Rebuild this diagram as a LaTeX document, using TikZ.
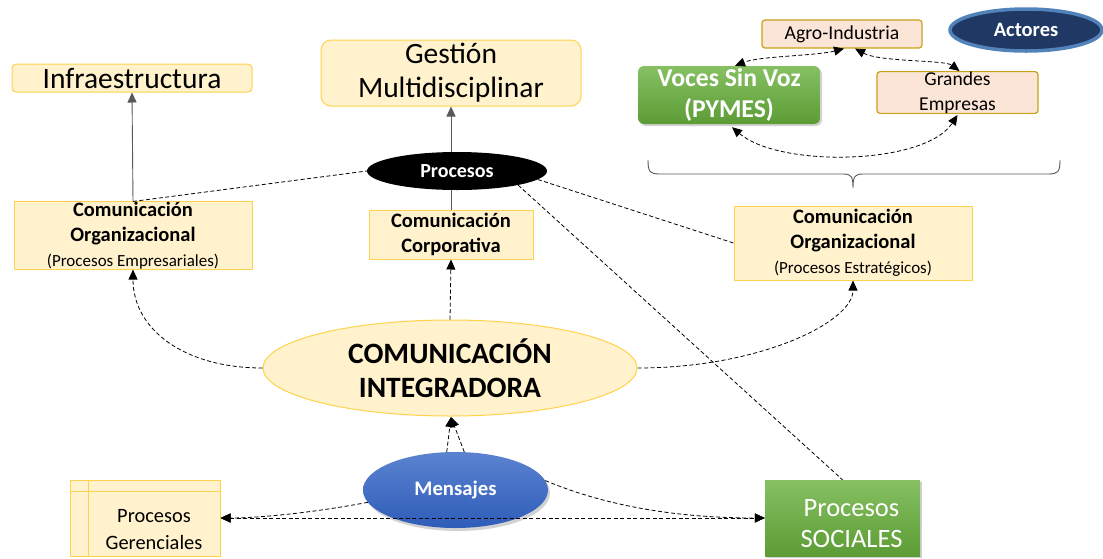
\documentclass[tikz,border=0pt]{standalone}
\usepackage{fontspec}
\setmainfont{Carlito}
\usetikzlibrary{arrows.meta,shapes.geometric,shadows,calc}

\definecolor{boxfill}{HTML}{FFF2CC}
\definecolor{boxline}{HTML}{FFD24D}
\definecolor{peach}{HTML}{FBE5D6}
\definecolor{peachline}{HTML}{C9A21A}
\definecolor{greenA}{HTML}{86C062}
\definecolor{greenB}{HTML}{5C9C35}
\definecolor{blueA}{HTML}{5B83D0}
\definecolor{blueB}{HTML}{2E5CB8}
\definecolor{navy}{HTML}{203864}
\definecolor{navyline}{HTML}{5282BA}
\definecolor{linegray}{HTML}{595959}

\newcommand\fs[2]{\fontsize{#1}{#2}\selectfont}

\tikzset{
  ybox/.style={draw=boxline, fill=boxfill, line width=1pt, inner sep=0pt, align=center},
  pbox/.style={draw=peachline, fill=peach, line width=1.2pt, rounded corners=3pt, inner sep=0pt, align=center},
  gbox/.style={top color=greenA, bottom color=greenB, draw=none, inner sep=0pt, align=center,
    text=white, drop shadow={opacity=0.35, shadow xshift=2pt, shadow yshift=-2pt}},
  lbl/.style={inner sep=0pt, align=center},
  solidlink/.style={draw=linegray, line width=0.9pt},
  dlink/.style={draw=black, line width=0.8pt, dash pattern=on 4pt off 2.5pt},
  tip/.style={-{Triangle[length=10pt,width=9pt]}},
  tips/.style={{Triangle[length=10pt,width=9pt]}-{Triangle[length=10pt,width=9pt]}}
}

\begin{document}
\begin{tikzpicture}[x=1pt,y=1pt]
\useasboundingbox (0,0) rectangle (1103,-558);
\fill[white] (0,0) rectangle (1103,-558);

% upper boxes
\node[ybox, rounded corners=4pt, minimum width=240pt, minimum height=28pt, font=\fs{29.5}{34}] (infra) at (132,-78) {Infraestructura};
\node[ybox, rounded corners=10pt, minimum width=260pt, minimum height=66pt, font=\fs{29.5}{34}] (gm) at (451,-73) {Gestión\\Multidisciplinar};
\node[ellipse, fill=black, minimum width=180pt, minimum height=38pt, inner sep=0pt, text=white, font=\bfseries\fs{20}{24}] (proc) at (457,-171) {Procesos};

% communication boxes
\node[ybox, minimum width=238pt, minimum height=65pt, font=\fs{20.5}{25}] (lo) at (133,-235.5)
  {\bfseries Comunicación\\\bfseries Organizacional\\{\fs{17}{21}(Procesos Empresariales)}};
\node[ybox, minimum width=164pt, minimum height=49pt, font=\bfseries\fs{20.5}{25}] (cc) at (451,-234.5) {Comunicación\\Corporativa};
\node[ybox, minimum width=238pt, minimum height=74pt, font=\fs{20.5}{25}] (ro) at (853,-243)
  {\bfseries Comunicación\\\bfseries Organizacional\\{\fs{17}{22}(Procesos Estratégicos)}};

% central ellipse and messages
\node[ellipse, draw=boxline, fill=boxfill, line width=1pt, minimum width=374pt, minimum height=96pt, inner sep=0pt, align=center, font=\bfseries\fs{29.5}{34}] (ci) at (450,-368) {COMUNICACIÓN\\INTEGRADORA};
\node[ellipse, top color=blueA, bottom color=blueB, draw=none, minimum width=185pt, minimum height=76pt, inner sep=0pt, text=white, font=\bfseries\fs{20.7}{24},
  drop shadow={opacity=0.35, shadow xshift=2pt, shadow yshift=-3pt}] (msg) at (455.5,-490) {Mensajes};

% lower boxes
\node[ybox, minimum width=150pt, minimum height=76pt] (pg) at (145,-518) {};
\draw[draw=boxline, line width=1pt] (88,-480) -- (88,-556) (70,-491) -- (220,-491);
\node[lbl, font=\fs{20.4}{27}] (pgt) at (154,-529.5) {Procesos\\Gerenciales};
\node[gbox, minimum width=155pt, minimum height=76pt] (ps) at (842.5,-518) {};
\node[lbl, text=white, font=\fs{26.5}{31}] (pst) at (851.5,-523.5) {Procesos\\SOCIALES};

% actors
\node[pbox, minimum width=160pt, minimum height=28pt, font=\fs{19.7}{24}] (agro) at (842,-34) {Agro-Industria};
\node[gbox, rounded corners=6pt, minimum width=182pt, minimum height=58pt, font=\bfseries\fs{25.7}{31}] (voces) at (729,-95) {Voces Sin Voz\\(PYMES)};
\node[pbox, minimum width=161pt, minimum height=39pt, font=\fs{19.6}{25}] (grandes) at (957.5,-92.5) {Grandes\\Empresas};
\node[ellipse, fill=navy, draw=navyline, line width=3.5pt, minimum width=152pt, minimum height=42pt, inner sep=0pt, text=white, font=\bfseries\fs{20.5}{24}] (act) at (1026,-30) {Actores};

% connectors
\draw[solidlink, tip] (lo.north) -- (infra.south);
\draw[solidlink, tip] (gm.south |- proc.north) -- (gm.south);
\draw[solidlink] (cc.north) -- (cc.north |- proc.south);
\draw[dlink] (lo.north) -- (proc.west);
\draw[dlink] (proc.-6) -- (ro.west);
\draw[dlink] (proc.-13) -- (ps.north);

\draw[dlink, tip] (ci.west) .. controls (185,-368) and (133,-330) .. (lo.south);
\draw[dlink, tip] (ci.east) .. controls (760,-368) and (853,-322) .. (ro.south);
\draw[dlink, tip] (ci.north) -- (cc.south);

\coordinate (citip) at (451,-417);
\draw[dlink, tip] (msg.103) -- (citip);
\draw[dlink, tip] (msg.77) -- (citip);

\draw[dlink, tips] (pg.east) -- (ps.west);
\draw[dlink, tip] (msg.188) .. controls (300,-515) and (250,-518) .. (pg.east);
\draw[dlink, tip] (msg.6) .. controls (620,-512) and (700,-518) .. (ps.west);

\draw[dlink, tips] ($(agro.south)+(2,0)$) .. controls (815,-56) and (760,-56) .. ($(voces.north)+(6,0)$);
\draw[dlink, tips] ($(agro.south)+(13,0)$) .. controls (880,-62) and (945,-60) .. ($(grandes.north)+(2,0)$);
\draw[dlink, tips] ($(voces.south)+(3,-3)$) .. controls (780,-168) and (925,-165) .. ($(grandes.south)+(0,-1)$);

% brace under the actors
\draw[linegray, line width=0.9pt]
  (648,-160) .. controls (648,-172) and (650,-174) .. (660,-174) -- (843,-174)
  .. controls (851,-174) and (853,-176) .. (853,-188)
  (1060,-160) .. controls (1060,-172) and (1058,-174) .. (1048,-174) -- (863,-174)
  .. controls (855,-174) and (853,-176) .. (853,-188);
\end{tikzpicture}
\end{document}
